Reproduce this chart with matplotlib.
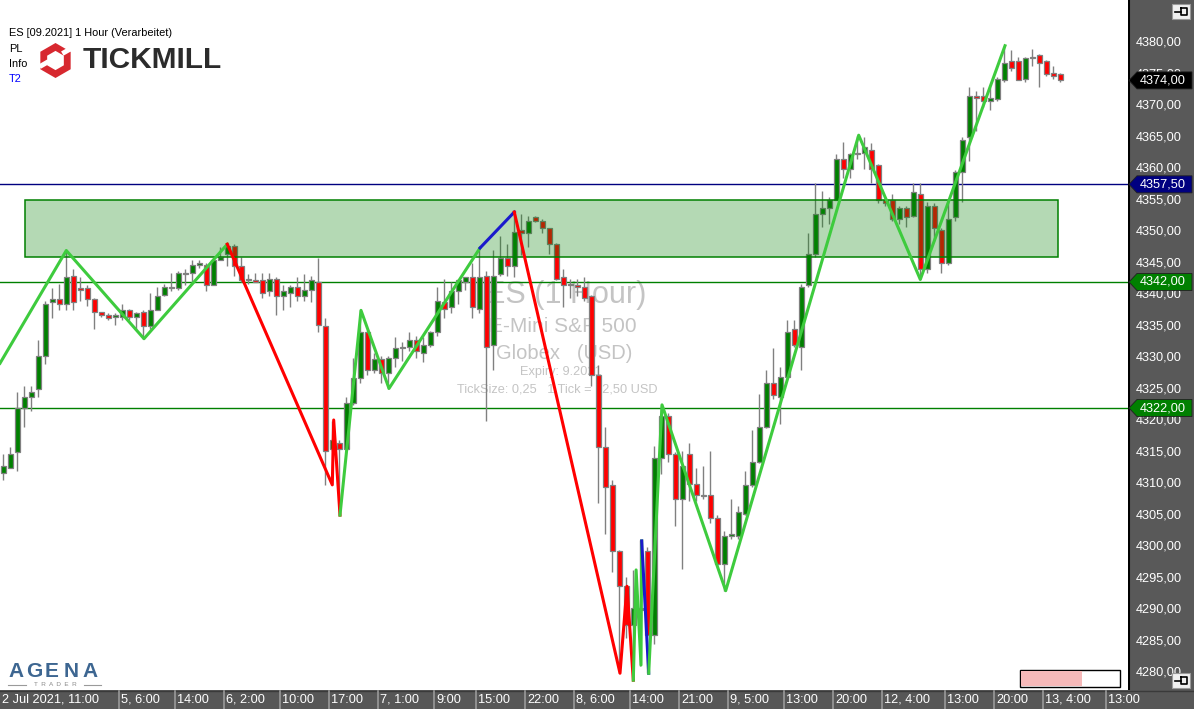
import numpy as np
import matplotlib
matplotlib.use("Agg")
import matplotlib.pyplot as plt
from matplotlib.patches import Rectangle, Polygon
from matplotlib.transforms import blended_transform_factory

plt.rcParams['font.family'] = ['Liberation Sans', 'DejaVu Sans']

# ---------------- data ----------------
opens = [4311.75, 4312.5, 4315, 4322, 4323.75, 4325, 4330.25, 4338.75, 4339.25, 4338.5,
         4343, 4341, 4341, 4339.25, 4337.25, 4336.75, 4336.5, 4336.5, 4337.5, 4336.5,
         4337.25, 4335, 4337.5, 4340, 4341.25, 4341, 4343.25, 4343.5, 4344.75, 4344.75,
         4341.5, 4345.5, 4346.5, 4347.75, 4344.5, 4342.5, 4342.25, 4342.25, 4340.5, 4342.5,
         4339.75, 4340.25, 4341.25, 4339.75, 4340.75, 4342, 4335, 4315.5, 4316.5, 4315.5,
         4322.75, 4326.75, 4334, 4328, 4329.75, 4327.5, 4330, 4331.5, 4331.75, 4332.75,
         4330.75, 4332, 4334, 4338.75, 4338, 4340.5, 4342, 4342.75, 4337.75, 4343,
         4332, 4343.25, 4345.75, 4344.5, 4350.25, 4349.75, 4352.25, 4351.75, 4350.5, 4348,
         4342.75, 4341.75, 4341.5, 4341.25, 4339.75, 4327.25, 4315.75, 4309.75, 4299.25, 4293.75,
         4287.5, 4290.25, 4299.25, 4286, 4314, 4320.75, 4314.75, 4307.5, 4314.75, 4310,
         4308.25, 4308.25, 4304.5, 4297.25, 4301.75, 4301.75, 4305.25, 4309.75, 4313.5, 4319,
         4326, 4323.75, 4327, 4334.5, 4331.75, 4341.5, 4346.5, 4352.75, 4353.75, 4355,
         4361.5, 4360, 4362.25, 4362.5, 4363, 4360.5, 4355, 4355, 4352, 4353.75,
         4352.5, 4356, 4344, 4354, 4350.25, 4345, 4352.25, 4359.5, 4365, 4371.5,
         4371.5, 4370.75, 4371, 4374, 4377, 4377, 4374.25, 4377.5, 4378, 4377,
         4375.25, 4375]
highs = [4314.75, 4315.75, 4324.5, 4325.5, 4325.5, 4332.75, 4339, 4341, 4341.75, 4347,
         4344, 4342.75, 4341.5, 4339.5, 4337.25, 4337, 4337, 4338.5, 4337.75, 4337.25,
         4337.5, 4340.25, 4341.25, 4341.75, 4343.5, 4343.75, 4344, 4345.5, 4345.5, 4345,
         4345.75, 4347.5, 4348, 4348, 4346, 4343.25, 4343.5, 4343.5, 4343.5, 4342.75,
         4341.5, 4341.5, 4342.75, 4343.25, 4343, 4345.75, 4336.25, 4320, 4317, 4323.75,
         4330, 4337.5, 4334.25, 4330.75, 4330.25, 4330.25, 4333.25, 4332.5, 4334, 4333.5,
         4333.25, 4334.25, 4341.25, 4342.5, 4342, 4342.5, 4342.75, 4345, 4347.25, 4343.75,
         4347, 4349.25, 4348, 4353, 4352.75, 4352.5, 4352.5, 4352, 4350.5, 4348.25,
         4344, 4342.5, 4342.5, 4342.75, 4340, 4328.75, 4319, 4310.5, 4299.5, 4295.25,
         4296.25, 4301, 4300, 4316, 4322.5, 4321.25, 4315, 4315.25, 4316.5, 4312.5,
         4312.75, 4315.25, 4305, 4302.5, 4307.5, 4306.5, 4312, 4318.5, 4324.25, 4328,
         4331.5, 4328.5, 4336, 4336, 4341.75, 4349.75, 4357.75, 4356.5, 4355.5, 4362.25,
         4364.25, 4362.5, 4365.25, 4365, 4364, 4360.75, 4355.25, 4356, 4354, 4354,
         4357.75, 4357.75, 4354.75, 4354.5, 4350.5, 4355, 4359.75, 4365, 4373, 4372.25,
         4373, 4373, 4374.5, 4379.5, 4378.75, 4377.75, 4377.75, 4379, 4378.25, 4377.25,
         4376.25, 4375.25]
lows = [4310.5, 4312.5, 4312, 4319, 4321.5, 4323.75, 4329, 4336.25, 4337.5, 4337.5,
        4337.5, 4339, 4338.25, 4334.5, 4336.5, 4336, 4335.25, 4336, 4336, 4334.5,
        4333, 4334.5, 4337.5, 4339.75, 4340.5, 4340.75, 4341.5, 4342, 4344.25, 4340.5,
        4341.5, 4345.5, 4344.5, 4343, 4342, 4341.75, 4342, 4339.5, 4339.75, 4336.75,
        4337.5, 4338, 4339, 4339, 4338.75, 4334, 4309.75, 4315.25, 4305, 4315.25,
        4322.5, 4326, 4327.25, 4327.5, 4326, 4325, 4328.5, 4329.5, 4331, 4330,
        4329.25, 4331.75, 4333.5, 4336.25, 4337, 4338.5, 4340.75, 4336.25, 4337, 4320,
        4328, 4343, 4343, 4342.75, 4346.25, 4347.5, 4351.5, 4349.75, 4346.5, 4342.25,
        4338, 4339.5, 4339.75, 4339, 4325.5, 4307, 4302, 4296, 4280, 4285.5,
        4278.75, 4281, 4280, 4284.5, 4311.5, 4313.5, 4303.25, 4296.5, 4307.25, 4307.25,
        4307.5, 4303.75, 4297, 4293, 4301.25, 4301.25, 4305, 4309.5, 4313.25, 4318.75,
        4323.5, 4319.5, 4327, 4331.75, 4328, 4341.25, 4346, 4350.75, 4351.25, 4355,
        4358.5, 4358.5, 4361.5, 4360, 4357.75, 4354.5, 4354, 4351.75, 4351.25, 4350.75,
        4352.25, 4342.5, 4343.5, 4348.5, 4343.5, 4344.75, 4351.75, 4354.75, 4361.25, 4366,
        4369.75, 4369.25, 4370.75, 4373.75, 4375.5, 4374, 4373.75, 4376.25, 4373, 4374.75,
        4374.25, 4373.75]
closes = [4312.75, 4314.75, 4322, 4323.75, 4324.5, 4330.25, 4338.5, 4339.25, 4338.5, 4342.75,
          4338.75, 4340.75, 4339.25, 4337.25, 4336.75, 4336.25, 4336.75, 4337.5, 4336.5, 4337,
          4335, 4337.5, 4339.75, 4341.25, 4341, 4343.5, 4343.5, 4344.75, 4345, 4341.5,
          4345.5, 4346, 4347.75, 4344.5, 4342.25, 4342.25, 4342, 4340.25, 4342.5, 4339.75,
          4340.5, 4341.25, 4339.75, 4340.75, 4342.25, 4335.25, 4315.25, 4317, 4315.5, 4322.75,
          4326.75, 4334, 4328, 4329.75, 4327.5, 4330, 4331.5, 4331.75, 4332.75, 4331,
          4332, 4334, 4339, 4337.75, 4340.5, 4342.25, 4342.75, 4338, 4342.75, 4331.75,
          4343, 4345.75, 4344.5, 4350, 4349.75, 4351.75, 4351.75, 4350.5, 4348, 4342.5,
          4341.5, 4341.5, 4341.25, 4339.5, 4327.25, 4315.75, 4309.5, 4299.25, 4293.75, 4287.5,
          4290.25, 4290, 4286, 4314, 4320.75, 4314.75, 4307.5, 4312.75, 4310, 4308.25,
          4308, 4304.5, 4297.25, 4301.75, 4302, 4305.5, 4309.75, 4313.5, 4319, 4326,
          4324, 4327, 4334, 4332, 4341.25, 4346.5, 4352.75, 4353.75, 4355, 4361.5,
          4360, 4362.25, 4362.5, 4363.5, 4360, 4355, 4354.5, 4352, 4353.75, 4352.25,
          4356.25, 4344, 4354, 4350.5, 4345, 4352, 4359.5, 4364.5, 4371.5, 4371.25,
          4370.75, 4371.25, 4374.25, 4376.75, 4376, 4374, 4377.5, 4377.75, 4376.75, 4375,
          4374.75, 4374]

# zigzag swing points (bar index, price)
zz_green1_x = [-0.47, 9, 20.1, 32]
zz_green1_y = [4329.1, 4347.0, 4333.0, 4348.0]
zz_red1_x = [32, 47.0, 47.2, 48.1]
zz_red1_y = [4348.0, 4309.8, 4320.1, 4305.0]
zz_green2_x = [48.1, 51.1, 55.1, 68.1]
zz_green2_y = [4305.0, 4337.5, 4325.1, 4347.4]
zz_blue1_x = [68.1, 73.0]
zz_blue1_y = [4347.4, 4353.1]
zz_red2_x = [73.0, 88.1, 89.1, 90.0]
zz_red2_y = [4353.1, 4279.9, 4293.7, 4278.8]
zz_green3_x = [90.0, 90.4, 91.1, 91.2]
zz_green3_y = [4278.8, 4296.3, 4281.2, 4300.9]
zz_blue2_x = [91.2, 92.2]
zz_blue2_y = [4300.9, 4279.9]
zz_green4_x = [92.2, 94.1, 103.2, 122.2, 131.0, 143.1]
zz_green4_y = [4279.9, 4322.5, 4293.0, 4365.3, 4342.4, 4379.5]

zone_bars = [3.1, 150.7]
zone_prices = [4346.0, 4355.0]
hlines = [4357.5, 4342.0, 4322.0]
hline_colors = ['#000080', '#008000', '#008000']
last_price = 4374.0

yticks = list(range(4280, 4381, 5))
xt_idx = [0, 17, 25, 32, 40, 47, 54, 62, 68, 75, 82, 90, 97, 104, 112, 119, 126, 135, 142, 149, 158]
xt_lab = ['2 Jul 2021, 11:00', '5, 6:00', '14:00', '6, 2:00', '10:00', '17:00', '7, 1:00',
          '9:00', '15:00', '22:00', '8, 6:00', '14:00', '21:00', '9, 5:00', '13:00', '20:00',
          '12, 4:00', '13:00', '20:00', '13, 4:00', '13:00']

def fmt(v):
    return f"{v:.2f}".replace('.', ',')

# ---------------- figure ----------------
W, H = 1194, 709
fig = plt.figure(figsize=(W / 100, H / 100), dpi=100)
fig.patch.set_facecolor('white')
ax = fig.add_axes([0, 19 / H, 1128 / W, 690 / H])
ax.set_xlim(-0.47, 160.67)
ax.set_ylim(4277.24, 4386.76)
ax.axis('off')

n = len(opens)
x = np.arange(n)
o = np.array(opens); c = np.array(closes); hi = np.array(highs); lo = np.array(lows)
cols = np.where(c > o, '#008000', np.where(c < o, '#ff0000', '#808080'))
bh = np.maximum(np.abs(c - o), 0.06)
ax.vlines(x, lo, hi, color='#808080', lw=1.0, zorder=2)
ax.bar(x, bh, bottom=np.minimum(o, c), width=0.72, color=cols, edgecolor='#808080',
       linewidth=0.9, zorder=3)

for p, col in zip(hlines, hline_colors):
    ax.axhline(p, color=col, lw=1.0, zorder=1.5)

ax.add_patch(Rectangle((zone_bars[0], zone_prices[0]), zone_bars[1] - zone_bars[0],
                       zone_prices[1] - zone_prices[0],
                       facecolor=(8 / 255, 132 / 255, 8 / 255, 0.30),
                       edgecolor='#008000', lw=1.1, zorder=4))

zz_lw = 2.2
zg, zr, zb = '#3ecb3e', '#ff0000', '#1a1acc'
ax.plot(zz_green1_x, zz_green1_y, color=zg, lw=zz_lw, zorder=5)
ax.plot(zz_red1_x, zz_red1_y, color=zr, lw=zz_lw, zorder=5)
ax.plot(zz_green2_x, zz_green2_y, color=zg, lw=zz_lw, zorder=5)
ax.plot(zz_blue1_x, zz_blue1_y, color=zb, lw=zz_lw, zorder=5)
ax.plot(zz_red2_x, zz_red2_y, color=zr, lw=zz_lw, zorder=5)
ax.plot(zz_green3_x, zz_green3_y, color=zg, lw=zz_lw, zorder=5)
ax.plot(zz_blue2_x, zz_blue2_y, color=zb, lw=zz_lw, zorder=5)
ax.plot(zz_green4_x, zz_green4_y, color=zg, lw=zz_lw, zorder=5)

# watermark
wm = '#c4c4c4'
ax.text(80.4, 4339.9, 'ES (1 Hour)', fontsize=22, color=wm, ha='center', va='center', zorder=1)
ax.text(80.0, 4335.0, 'E-Mini S&P 500', fontsize=15, color=wm, ha='center', va='center', zorder=1)
ax.text(80.1, 4330.7, 'Globex   (USD)', fontsize=14.5, color=wm, ha='center', va='center', zorder=1)
ax.text(79.7, 4327.7, 'Expiry: 9.2021', fontsize=9.2, color=wm, ha='center', va='center', zorder=1)
ax.text(79.2, 4325.0, 'TickSize: 0,25   1 Tick = 12,50 USD', fontsize=9.2, color=wm,
        ha='center', va='center', zorder=1)

# bottom time axis strip
ax_bot = fig.add_axes([0, 0, 1, 19 / H])
ax_bot.set_xlim(0, 1); ax_bot.set_ylim(0, 1)
ax_bot.axis('off')
ax_bot.add_patch(Rectangle((0, 0), 1, 1, facecolor='#575757', edgecolor='none', zorder=0))
ax_bot.plot([0, 1], [0.97, 0.97], color='#3a3a3a', lw=1, zorder=1)
bt = blended_transform_factory(ax.transData, ax_bot.transAxes)
for i, lab in zip(xt_idx, xt_lab):
    if i > 0:
        ax_bot.plot([i - 0.5, i - 0.5], [0.0, 0.95], color='#9a9a9a', lw=1.2,
                    transform=bt, clip_on=False, zorder=2)
    ax_bot.text(i - 0.5 + 0.35, 0.48, lab, transform=bt, fontsize=9.2, color='white',
                ha='left', va='center', clip_on=False, zorder=3)

# right price panel
ax_r = fig.add_axes([1128 / W, 19 / H, 66 / W, 690 / H])
ax_r.set_xlim(0, 66)
ax_r.set_ylim(ax.get_ylim())
ax_r.axis('off')
ax_r.add_patch(Rectangle((0, 4200), 66, 300, facecolor='#595959', edgecolor='none', zorder=0))
ax_r.axvline(0.5, color='black', lw=1.5, zorder=1)
for p in yticks:
    ax_r.text(8, p, fmt(p), fontsize=9.2, color='white', ha='left', va='center', zorder=2)

def marker(price, col):
    h = 1.35
    ax_r.add_patch(Polygon([[1, price], [9, price + h], [64, price + h], [64, price - h],
                            [9, price - h]], closed=True, facecolor=col, edgecolor='#202020',
                           lw=0.6, zorder=3))
    ax_r.text(12, price, fmt(price), fontsize=9.2, color='white', ha='left', va='center', zorder=4)

marker(last_price, '#000000')
for p, col in zip(hlines, hline_colors):
    marker(p, col)

# overlay for logos / labels
ov = fig.add_axes([0, 0, 1, 1], facecolor='none')
ov.set_xlim(0, W); ov.set_ylim(H, 0)
ov.axis('off')

ov.text(9, 33, 'ES [09.2021] 1 Hour (Verarbeitet)', fontsize=7.9, color='black', va='center')
ov.text(9, 49, 'PL', fontsize=7.9, color='black', va='center')
ov.text(9, 64, 'Info', fontsize=7.9, color='black', va='center')
ov.text(9, 79, 'T2', fontsize=7.9, color='#0000ff', va='center')

# tickmill hexagon icon
cx, cy, R = 55.5, 60.5, 17.5
ang = np.deg2rad(np.arange(6) * 60 + 90)
outer = np.c_[cx + R * np.cos(ang), cy + R * np.sin(ang)]
inner = np.c_[cx + 0.55 * R * np.cos(ang), cy + 0.55 * R * np.sin(ang)]
ov.add_patch(Polygon(outer, closed=True, facecolor='#d7282f', edgecolor='none', zorder=5))
ov.add_patch(Polygon(inner, closed=True, facecolor='white', edgecolor='none', zorder=6))
for a in [-30, 150]:
    t = np.deg2rad(a)
    ov.plot([cx + 0.45 * R * np.cos(t), cx + 1.05 * R * np.cos(t)],
            [cy + 0.45 * R * np.sin(t) - 3, cy + 1.05 * R * np.sin(t) - 3],
            color='white', lw=3.5, zorder=7, solid_capstyle='butt')
ov.text(83, 60, 'TICKMILL', fontsize=21.5, fontweight='bold', color='#2b2b2b',
        va='center', ha='left')

# agena trader logo
for k, ch in enumerate('AGENA'):
    ov.text(8 + k * 18.5, 671.5, ch, fontsize=15, fontweight='bold', color='#3d6691',
            va='center', ha='left')
ov.text(55, 684.5, 'T  R  A  D  E  R', fontsize=4.6, color='#8a8a8a', va='center', ha='center')
ov.plot([8, 26], [684.5, 684.5], color='#9a9a9a', lw=0.8)
ov.plot([84, 101], [684.5, 684.5], color='#9a9a9a', lw=0.8)

# pink progress box
ov.add_patch(Rectangle((1020, 670), 100, 17, facecolor='white', edgecolor='black', lw=1, zorder=5))
ov.add_patch(Rectangle((1021, 671), 61, 15, facecolor='#f6b9b9', edgecolor='none', zorder=6))

# pin buttons
for by in [4, 673]:
    ov.add_patch(Rectangle((1172, by), 18, 15, facecolor='#f0f0f0', edgecolor='#9a9a9a',
                           lw=0.8, zorder=8))
    ov.plot([1175, 1181], [by + 7.5, by + 7.5], color='black', lw=1.2, zorder=9)
    ov.plot([1181, 1181, 1187, 1187, 1181], [by + 4, by + 11, by + 11, by + 4, by + 4],
            color='black', lw=1.2, zorder=9)

fig.savefig('out.png', dpi=100)
